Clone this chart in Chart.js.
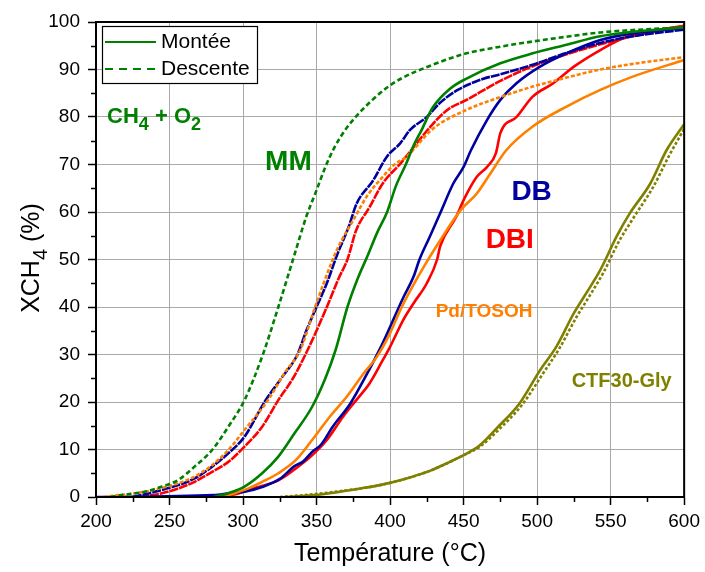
<!DOCTYPE html>
<html><head><meta charset="utf-8">
<script src="https://cdn.jsdelivr.net/npm/chart.js@4.4.0/dist/chart.umd.min.js"></script>
<style>html,body{margin:0;padding:0;background:#fff}</style>
</head><body>
<canvas id="c" width="705" height="572"></canvas>
<script>
// ---- data: [température °C, XCH4 %] ----
const mmDescente = [[210,0],[217.5,0.4],[233,1.1],[245,2.2],[256,3.6],[267,6.4],[279,9.9],[290,14.8],[301,20.4],[313.5,30],[324,40],[334,50],[343,59],[350,64.6],[356,69.5],[362,73.5],[370,77.5],[378,80.5],[388,83.6],[398,86.2],[407,88],[429,91],[452,93.4],[475,94.8],[497,95.9],[520,96.9],[543,97.8],[600,98.9]];
const mmMontee = [[280,0],[290,0.8],[301,2.2],[313,5],[324,8.5],[335,13.4],[347,19],[356,25],[363,31],[371,40],[378,46],[385,51],[391,55.5],[398,60],[404,65.5],[411,70.2],[416,74],[421.5,77.3],[429,82],[441,86],[452,88.1],[475,91.3],[497,93.4],[520,95.2],[543,97],[600,98.9]];
const dbDescente = [[225,0],[240,1.1],[256,2.5],[267,3.9],[279,6.4],[290,9.2],[301,12.7],[315,20.2],[326,25],[337,30],[343,35],[350,40],[357,45],[364,51],[372,57],[377.3,61.8],[388.6,66.7],[397.7,71.6],[407,74.5],[413.6,77.3],[425,80],[434,83],[446,85.7],[463,88],[475,89],[497,91],[520,93.5],[543,95.6],[565,97],[600,98.4]];
const dbMontee = [[200,0],[280,0.4],[291,0.8],[301,1.1],[313,2.1],[325,3.8],[335,6.5],[341,7.5],[347,9.5],[353,11],[361,14.8],[373,19.7],[382,24.6],[395,32.4],[409,42],[416,46.4],[420,50],[427,54.8],[434,59.7],[443,66],[450,69.5],[455,73],[466,79.4],[475,83.6],[486,87.1],[502,90.6],[520,93.4],[543,96.2],[565,97.6],[600,98.7]];
const dbiDescente = [[230,0],[245,0.8],[256,1.8],[267,3.2],[279,5.3],[290,7.4],[301,10.6],[313,14.8],[324,20.4],[334,25],[344,31],[357,40],[365,46],[371,50],[377,56.2],[386,61],[395,66],[407,70.2],[420,75.2],[429,78.5],[439,81.5],[452,83.6],[475,87.6],[497,90.7],[520,93.2],[543,95.3],[565,97],[600,99.2]];
const dbiMontee = [[280,0],[295,0.6],[309,2],[324,3.5],[335,5.8],[346,8.5],[357,12],[368,16.9],[377,20.4],[386,23.9],[395,28.8],[400,31.6],[409,37.3],[416,40.8],[425,45],[432,50],[434,52.7],[445,59],[450,62.5],[459,67.4],[466,69.5],[472,72.4],[475,76.6],[486,80],[497,84.3],[511,87.1],[525,90.6],[543,94.1],[561,96.9],[600,99.2]];
const pdDescente = [[205,0],[210,0.2],[233,1.1],[256,2.9],[267,4.3],[279,6.7],[290,9.9],[301,14.1],[317,20.4],[328,26],[339,31],[349,40],[361,50],[366,53.4],[375,58.3],[384,63.2],[395,67.4],[403,70],[411,71.6],[429,77.5],[452,81.5],[475,84.2],[497,86.4],[520,88.3],[543,90],[570,91.4],[600,92.6]];
const pdMontee = [[285,0],[290,0.4],[301,1.5],[313,3.2],[324,5],[336,7.8],[347,12],[359,16.9],[370.5,21.1],[382,26],[391,29.5],[400,34.5],[407,39.4],[414,43.6],[423,48.5],[434,54],[448,60.4],[459,63.9],[468,68],[479,73],[497,78],[520,82.2],[543,85.7],[565,88.5],[600,92]];
const ctfMontee = [[330,0],[345,0.3],[359,0.8],[380,1.8],[393,2.5],[410,3.8],[427,5.5],[440,7.3],[450,8.8],[461,10.9],[472.6,14.5],[488,19.7],[502,26.7],[513,31.6],[525,38.7],[532,42.2],[543,47.8],[554,54.8],[563,59.7],[577,66],[588,73],[600,78.5]];
const ctfDescente = [[325,0],[345,0.5],[360,1],[380,1.8],[393,2.5],[410,3.8],[427,5.5],[450,8.8],[461,10.6],[474,14.2],[490,19.5],[504,26],[515,31.2],[527,38],[534,41.5],[545,47.2],[556,54],[566,59],[579,65.3],[590,72],[600,77.5]];

const xTickValues = [200,250,300,350,400,450,500,550,600];
const yTickValues = [0,10,20,30,40,50,60,70,80,90,100];
const legendLabels = ['Montée','Descente'];
const curveLabels = ['CH4 + O2','MM','DB','DBI','Pd/TOSOH','CTF30-Gly'];

const GREEN='#008000', BLUE='#0000A0', RED='#FF0000', ORANGE='#FF8000', OLIVE='#808000';
const toPts = a => a.map(p => ({x:p[0], y:p[1]}));
function ds(label, arr, color, dash){
  return {label, data: toPts(arr), borderColor: color, backgroundColor: color,
    borderWidth: 2.6, borderDash: dash || [], pointRadius: 0,
    cubicInterpolationMode: 'monotone', fill: false};
}
const datasets = [
  ds('CTF30-Gly Descente', ctfDescente, OLIVE, [3,2]),
  ds('CTF30-Gly Montée', ctfMontee, OLIVE),
  ds('MM Descente', mmDescente, GREEN, [5,3]),
  ds('MM Montée', mmMontee, GREEN),
  ds('Pd/TOSOH Descente', pdDescente, ORANGE, [4,2]),
  ds('Pd/TOSOH Montée', pdMontee, ORANGE),
  ds('DB Descente', dbDescente, BLUE, [9,1]),
  ds('DB Montée', dbMontee, BLUE),
  ds('DBI Descente', dbiDescente, RED, [9,1]),
  ds('DBI Montée', dbiMontee, RED),
];

const FONT = '"Liberation Sans", Arial, sans-serif';
const SUBK = 0.8;

function drawSub(ctx, parts, x, y, size, bold, color){
  ctx.save();
  ctx.fillStyle = color;
  ctx.textBaseline = 'alphabetic';
  ctx.textAlign = 'left';
  let cx = x;
  for (const [t, sub] of parts){
    const s = sub ? Math.round(size*SUBK) : size;
    ctx.font = (bold?'bold ':'') + s + 'px ' + FONT;
    ctx.fillText(t, cx, y + (sub ? size*0.3 : 0));
    cx += ctx.measureText(t).width;
  }
  ctx.restore();
  return cx - x;
}
function measureSub(ctx, parts, size, bold){
  let w=0;
  for (const [t, sub] of parts){
    const s = sub ? Math.round(size*SUBK) : size;
    ctx.font = (bold?'bold ':'') + s + 'px ' + FONT;
    w += ctx.measureText(t).width;
  }
  return w;
}

const decor = {
  id: 'decor',
  afterDraw(chart){
    const {ctx, chartArea:a, scales:{x, y}} = chart;
    ctx.save();
    ctx.strokeStyle = '#000'; ctx.lineWidth = 2;
    ctx.strokeRect(a.left, a.top, a.right - a.left, a.bottom - a.top);
    ctx.lineWidth = 1.5;
    ctx.beginPath();
    for (let v = 5; v < 100; v += 10){ const py = Math.round(y.getPixelForValue(v))+0.5; ctx.moveTo(a.left-5, py); ctx.lineTo(a.left, py); }
    for (let v = 225; v < 600; v += 50){ const px = Math.round(x.getPixelForValue(v))+0.5; ctx.moveTo(px, a.bottom); ctx.lineTo(px, a.bottom+5); }
    ctx.stroke();

    // legend box
    const lx = 102, ly = 26, lw = 155, lh = 57;
    ctx.fillStyle = '#fff'; ctx.fillRect(lx, ly, lw, lh);
    ctx.strokeStyle = '#000'; ctx.lineWidth = 1.2; ctx.strokeRect(lx+0.5, ly+0.5, lw, lh);
    ctx.strokeStyle = GREEN; ctx.lineWidth = 2;
    ctx.beginPath(); ctx.moveTo(105, 42); ctx.lineTo(156, 42); ctx.stroke();
    ctx.setLineDash([8,6]);
    ctx.beginPath(); ctx.moveTo(105, 69); ctx.lineTo(156, 69); ctx.stroke();
    ctx.setLineDash([]);
    ctx.fillStyle = '#000'; ctx.font = '21px ' + FONT; ctx.textBaseline = 'middle'; ctx.textAlign = 'left';
    ctx.fillText(legendLabels[0], 161, 42);
    ctx.fillText(legendLabels[1], 161, 69);

    const at = (T, X) => [x.getPixelForValue(T), y.getPixelForValue(X)];
    let p = at(207.5, 78.7);
    drawSub(ctx, [['CH',false],['4',true],[' + O',false],['2',true]], p[0], p[1], 22, true, GREEN);
    ctx.textBaseline = 'middle'; ctx.textAlign = 'left';
    ctx.font = 'bold 28px ' + FONT; ctx.fillStyle = GREEN;
    p = at(315, 70.5); ctx.fillText(curveLabels[1], p[0], p[1]);
    ctx.fillStyle = BLUE; p = at(482.5, 64.2); ctx.fillText(curveLabels[2], p[0], p[1]);
    ctx.fillStyle = RED; p = at(465, 54.1); ctx.fillText(curveLabels[3], p[0], p[1]);
    ctx.font = 'bold 19px ' + FONT; ctx.fillStyle = ORANGE;
    p = at(431, 38.9); ctx.fillText(curveLabels[4], p[0], p[1]);
    ctx.font = 'bold 20px ' + FONT; ctx.fillStyle = OLIVE;
    p = at(523.5, 24.4); ctx.fillText(curveLabels[5], p[0], p[1]);

    // y axis title with subscript
    ctx.translate(31, 258);
    ctx.rotate(-Math.PI/2);
    const parts = [['XCH',false],['4',true],[' (%)',false]];
    const w = measureSub(ctx, parts, 25, false);
    drawSub(ctx, parts, -w/2, 8, 25, false, '#000');
    ctx.restore();
  }
};

new Chart(document.getElementById('c'), {
  type: 'line',
  data: { datasets },
  options: {
    responsive: false, animation: false,
    layout: { padding: { top: 22, right: 19, left: 0, bottom: 0 } },
    plugins: { legend: { display: false }, tooltip: { enabled: false } },
    scales: {
      x: {
        type: 'linear', min: 200, max: 600,
        afterBuildTicks: s => { s.ticks = xTickValues.map(v => ({value: v})); },
        afterFit: s => { s.height = 75; },
        grid: { color: '#a9a9a9', lineWidth: 1, tickColor: '#000', tickLength: 8, tickWidth: 1.5 },
        border: { color: '#000', width: 2 },
        ticks: { color: '#000', font: { family: FONT, size: 19 }, padding: 5, maxRotation: 0 },
        title: { display: true, text: 'Température (°C)', color: '#000', font: { family: FONT, size: 25 }, padding: { top: 0, bottom: 3 } }
      },
      y: {
        type: 'linear', min: 0, max: 100,
        afterBuildTicks: s => { s.ticks = yTickValues.map(v => ({value: v})); },
        afterFit: s => { s.width = 96; },
        grid: { color: '#a9a9a9', lineWidth: 1, tickColor: '#000', tickLength: 8, tickWidth: 1.5 },
        border: { color: '#000', width: 2 },
        ticks: { color: '#000', font: { family: FONT, size: 19 }, padding: 8 }
      }
    }
  },
  plugins: [decor]
});
</script>
</body></html>
